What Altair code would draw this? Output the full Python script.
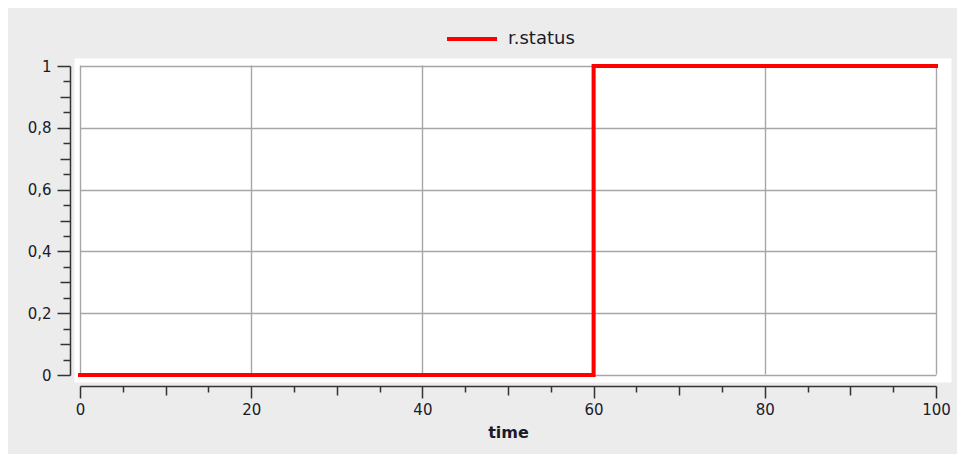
import altair as alt
import pandas as pd

# data
time = [0, 60, 100]
status = [0, 1, 1]
series_name = "r.status"

# tick values
x_major = [0, 20, 40, 60, 80, 100]
x_mid = [10, 30, 50, 70, 90]
x_minor = [5, 15, 25, 35, 45, 55, 65, 75, 85, 95]
y_major = [0, 0.2, 0.4, 0.6, 0.8, 1]
y_mid = [0.1, 0.3, 0.5, 0.7, 0.9]
y_minor = [0.05, 0.15, 0.25, 0.35, 0.45, 0.55, 0.65, 0.75, 0.85, 0.95]

df = pd.DataFrame({"time": time, "status": status, "series": [series_name] * len(time)})

W, H = 877, 324
xscale = alt.Scale(domain=[0, 100], range=[6, 862], nice=False, zero=False)
yscale = alt.Scale(domain=[0, 1], range=[317, 8], nice=False)

AX_COLOR = "#333333"
GRID = "#a6a6a6"
FONT = "DejaVu Sans"
TXT = "#1a1a2a"

main = alt.Chart(df).mark_line(
    interpolate="step-after", strokeWidth=4, strokeCap="square", strokeJoin="miter"
).encode(
    x=alt.X("time:Q", scale=xscale, axis=alt.Axis(
        values=x_major, orient="bottom", offset=4, tickSize=12, tickWidth=1.5,
        tickColor=AX_COLOR, domainColor=AX_COLOR, domainWidth=1.5,
        grid=True, gridColor=GRID, gridWidth=1.4,
        labelFont=FONT, labelFontSize=15, labelColor=TXT, labelPadding=4,
        labelFlush=False, labelOverlap=False,
        format="d", title="time", titleFont=FONT, titleFontSize=16,
        titleFontWeight="bold", titleColor=TXT, titlePadding=7)),
    y=alt.Y("status:Q", scale=yscale, axis=alt.Axis(
        values=y_major, orient="left", offset=4, tickSize=13, tickWidth=1.5,
        tickColor=AX_COLOR, domainColor=AX_COLOR, domainWidth=1.5,
        grid=True, gridColor=GRID, gridWidth=1.4,
        labelFont=FONT, labelFontSize=15, labelColor=TXT, labelPadding=6,
        labelOverlap=False,
        format="~g", labelExpr="replace(datum.label, '.', ',')", title=None)),
    color=alt.Color("series:N", scale=alt.Scale(domain=[series_name], range=["#ff0000"]),
                    legend=alt.Legend(orient="none", legendX=371, legendY=-46, title=None,
                                      symbolType="stroke", symbolSize=2500, symbolStrokeWidth=4,
                                      labelFont=FONT, labelFontSize=18, labelColor=TXT,
                                      labelOffset=9, padding=0)),
)


def tick_layer(xv, yv, xs, ys):
    return alt.Chart(df).mark_line(opacity=0).encode(
        x=alt.X("time:Q", scale=xscale, axis=alt.Axis(
            values=xv, orient="bottom", offset=4, tickSize=xs, tickWidth=1.5,
            tickColor=AX_COLOR, domain=False, grid=False, labels=False, title=None)),
        y=alt.Y("status:Q", scale=yscale, axis=alt.Axis(
            values=yv, orient="left", offset=4, tickSize=ys, tickWidth=1.5,
            tickColor=AX_COLOR, domain=False, grid=False, labels=False, title=None)),
    )


chart = alt.layer(
    main,
    tick_layer(x_mid, y_mid, 9, 10),
    tick_layer(x_minor, y_minor, 6, 7),
).resolve_axis(x="independent", y="independent").properties(
    width=W, height=H,
    autosize=alt.AutoSizeParams(type="none"),
    padding={"left": 66, "top": 50, "right": 6, "bottom": 72},
    background="#ececec",
).configure_view(fill="white", stroke="transparent")

chart.save("out.html", embed_options={"renderer": "svg", "actions": False})
